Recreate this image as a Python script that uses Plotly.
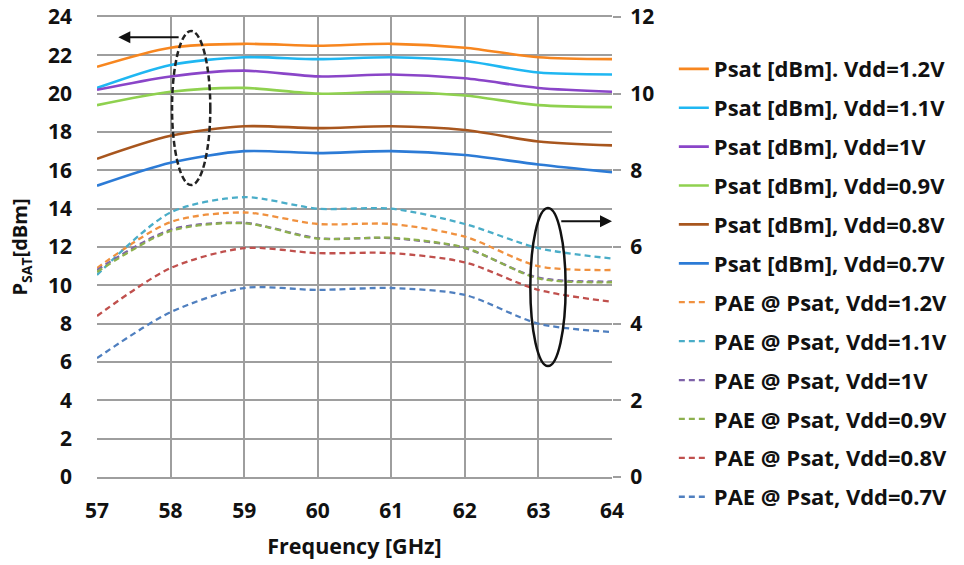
import plotly.graph_objects as go

freq = [57, 58, 59, 60, 61, 62, 63, 64]

psat_names = ["Psat [dBm]. Vdd=1.2V", "Psat [dBm], Vdd=1.1V", "Psat [dBm], Vdd=1V",
              "Psat [dBm], Vdd=0.9V", "Psat [dBm], Vdd=0.8V", "Psat [dBm], Vdd=0.7V"]
psat_12 = [21.4, 22.4, 22.6, 22.5, 22.6, 22.4, 21.9, 21.8]
psat_11 = [20.3, 21.5, 21.9, 21.8, 21.9, 21.7, 21.1, 21.0]
psat_10 = [20.2, 20.9, 21.2, 20.9, 21.0, 20.8, 20.3, 20.1]
psat_09 = [19.4, 20.1, 20.3, 20.0, 20.1, 19.9, 19.4, 19.3]
psat_08 = [16.6, 17.8, 18.3, 18.2, 18.3, 18.1, 17.5, 17.3]
psat_07 = [15.2, 16.4, 17.0, 16.9, 17.0, 16.8, 16.3, 15.9]
psat_colors = ["#F7861F", "#1FB7F2", "#8A45C8", "#8FD14F", "#A8561E", "#2C7BD6"]

pae_names = ["PAE @ Psat, Vdd=1.2V", "PAE @ Psat, Vdd=1.1V", "PAE @ Psat, Vdd=1V",
             "PAE @ Psat, Vdd=0.9V", "PAE @ Psat, Vdd=0.8V", "PAE @ Psat, Vdd=0.7V"]
pae_12 = [5.45, 6.65, 6.9, 6.6, 6.6, 6.27, 5.5, 5.4]
pae_11 = [5.27, 6.9, 7.3, 7.0, 7.0, 6.6, 5.97, 5.7]
pae_10 = [5.4, 6.45, 6.63, 6.23, 6.23, 5.97, 5.2, 5.1]
pae_09 = [5.35, 6.42, 6.62, 6.22, 6.24, 5.98, 5.18, 5.08]
pae_08 = [4.2, 5.45, 5.97, 5.84, 5.84, 5.6, 4.88, 4.57]
pae_07 = [3.1, 4.3, 4.93, 4.88, 4.93, 4.75, 4.0, 3.78]
pae_colors = ["#F0913F", "#4AADC8", "#7E62A8", "#8DB04E", "#C0504D", "#4F7FBF"]

FONT = "Open Sans"
FS = 21

fig = go.Figure()
for i, (name, vals) in enumerate(zip(psat_names, [psat_12, psat_11, psat_10, psat_09, psat_08, psat_07])):
    fig.add_trace(go.Scatter(x=freq, y=vals, name=name, mode="lines",
                             line=dict(color=psat_colors[i], width=2.6, shape="spline", smoothing=0.8),
                             legendgroup=f"g{i}", yaxis="y"))
for i, (name, vals) in enumerate(zip(pae_names, [pae_12, pae_11, pae_10, pae_09, pae_08, pae_07])):
    fig.add_trace(go.Scatter(x=freq, y=vals, name=name, mode="lines",
                             line=dict(color=pae_colors[i], width=2.3, dash="6px,4px", shape="spline", smoothing=0.8),
                             legendgroup=f"h{i}", yaxis="y2"))

grid = "#9E9E9E"
fig.update_layout(
    width=964, height=565,
    margin=dict(l=97, r=352, t=17, b=88, autoexpand=False),
    paper_bgcolor="white", plot_bgcolor="white",
    font=dict(family=FONT, size=FS, color="#111111"),
    xaxis=dict(range=[57, 64], dtick=1, showgrid=True, gridcolor=grid, gridwidth=1.5,
               zeroline=False, showline=True, linecolor=grid, linewidth=1.5, mirror=True,
               automargin=False,
               tickfont=dict(family=FONT, size=FS, weight="bold"), ticklabelstandoff=14,
               title=dict(text="<b>Frequency [GHz]</b>", font=dict(size=21.5), standoff=16)),
    yaxis=dict(range=[0, 24], dtick=2, showgrid=True, gridcolor=grid, gridwidth=1.5,
               zeroline=False, showline=False, automargin=False,
               tickfont=dict(family=FONT, size=FS, weight="bold"), ticklabelstandoff=24,
               title=dict(text="<b>P<sub>SAT</sub>[dBm]</b>", font=dict(size=20), standoff=14)),
    yaxis2=dict(range=[0, 12], dtick=2, overlaying="y", side="right", showgrid=False,
                zeroline=False, showline=False, ticks="outside", ticklen=8, tickcolor=grid, tickwidth=1.5,
                automargin=False,
                tickfont=dict(family=FONT, size=FS, weight="bold"), ticklabelstandoff=5),
    legend=dict(x=0.699, y=0.915, xref="container", yref="container", xanchor="left", yanchor="top",
                tracegroupgap=7.3,
                font=dict(family=FONT, size=22, weight="bold"), bgcolor="rgba(0,0,0,0)",
                itemwidth=30, maxheight=560),
    showlegend=True,
)

# ellipses
fig.add_shape(type="circle", xref="x", yref="y", x0=58.02, x1=58.54, y0=15.23, y1=23.27,
              line=dict(color="#222222", width=2.5, dash="6px,3px"))
fig.add_shape(type="circle", xref="x", yref="y", x0=62.89, x1=63.37, y0=5.79, y1=14.03,
              line=dict(color="#111111", width=2.5))
# arrows
fig.add_annotation(x=57.29, y=22.95, ax=58.13, ay=22.95, xref="x", yref="y", axref="x", ayref="y",
                   showarrow=True, arrowhead=2, arrowsize=1.2, arrowwidth=2, arrowcolor="#111111", text="")
fig.add_annotation(x=64.0, y=13.35, ax=63.29, ay=13.35, xref="x", yref="y", axref="x", ayref="y",
                   showarrow=True, arrowhead=2, arrowsize=1.2, arrowwidth=2, arrowcolor="#111111", text="")

fig.write_html("out.html")
